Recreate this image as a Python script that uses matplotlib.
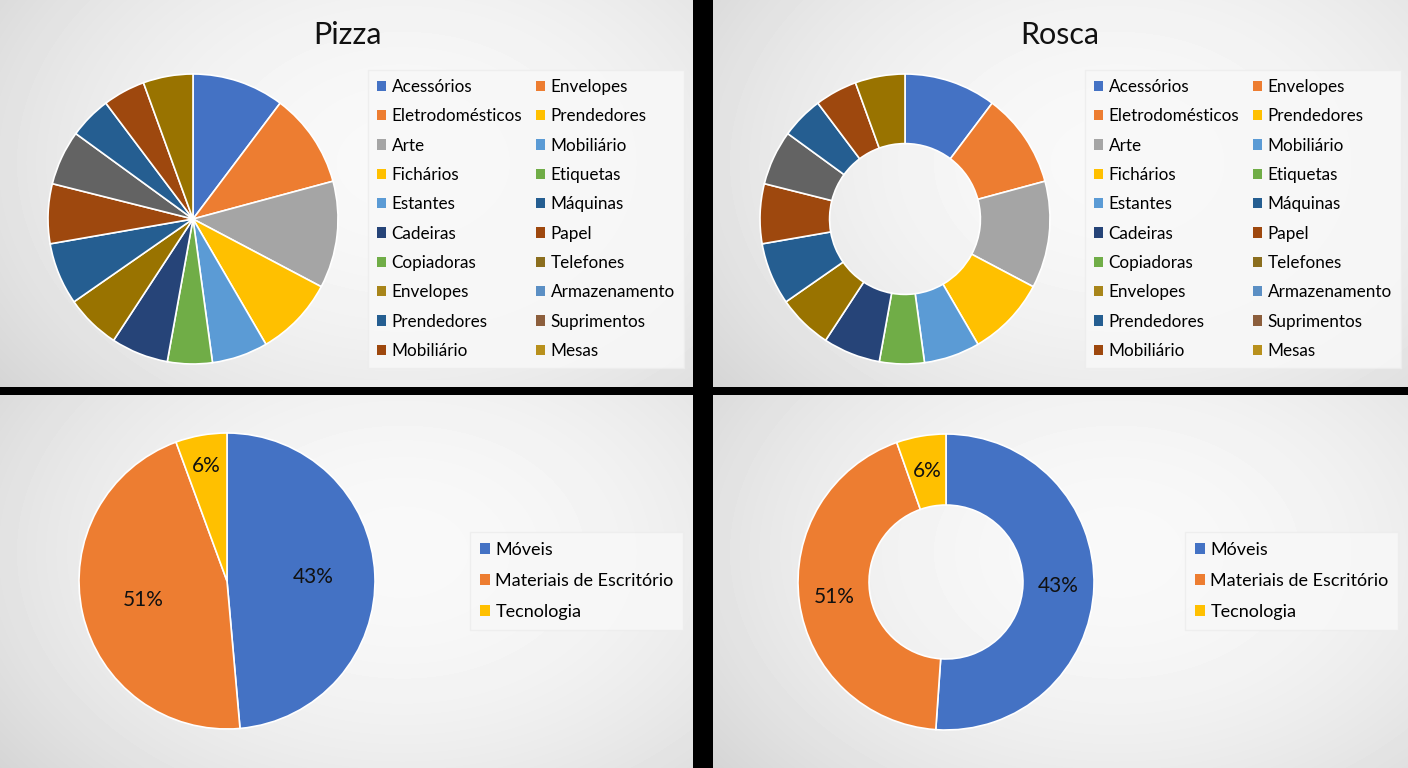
import matplotlib.pyplot as plt
from matplotlib.patches import Patch
import numpy as np

plt.rcParams['font.family'] = ['Lato', 'DejaVu Sans']

# dados - grafico de categorias (14 fatias visiveis)
fatias = [37, 38, 43, 32, 22.5, 18, 23, 22, 25, 24, 22, 17, 17, 20]
cores_fatias = ['#4472C4', '#ED7D31', '#A5A5A5', '#FFC000', '#5B9BD5', '#70AD47',
                '#264478', '#997300', '#255E91', '#9E480E', '#636363', '#255E91',
                '#9E480E', '#997300']

# legenda (ordem de leitura, linha a linha)
legenda = ['Acessórios', 'Envelopes', 'Eletrodomésticos', 'Prendedores', 'Arte', 'Mobiliário',
           'Fichários', 'Etiquetas', 'Estantes', 'Máquinas', 'Cadeiras', 'Papel',
           'Copiadoras', 'Telefones', 'Envelopes', 'Armazenamento', 'Prendedores',
           'Suprimentos', 'Mobiliário', 'Mesas']
cores_legenda = ['#4472C4', '#ED7D31', '#ED7D31', '#FFC000', '#A5A5A5', '#5B9BD5',
                 '#FFC000', '#70AD47', '#5B9BD5', '#255E91', '#264478', '#9E480E',
                 '#70AD47', '#8B6E1E', '#A8851A', '#5B8FC4', '#255E91', '#8C5E3C',
                 '#9E480E', '#B8901C']

# dados - grafico por segmento
segmentos = ['Móveis', 'Materiais de Escritório', 'Tecnologia']
rotulos_pct = ['43%', '51%', '6%']
fatias_pizza = [48.6, 45.8, 5.6]
fatias_rosca = [51.1, 43.5, 5.4]
cores_seg = ['#4472C4', '#ED7D31', '#FFC000']

W, H = 1408, 768
fig = plt.figure(figsize=(W / 100, H / 100), dpi=100, facecolor='black')


def px_axes(x0, y0, x1, y1):
    return fig.add_axes([x0 / W, 1 - y1 / H, (x1 - x0) / W, (y1 - y0) / H])


def fundo(x0, y0, x1, y1):
    ax = px_axes(x0, y0, x1, y1)
    h, w = int(y1 - y0), int(x1 - x0)
    yy, xx = np.mgrid[0:h, 0:w]
    d = np.sqrt(((xx - 0.58 * w) / (0.62 * w)) ** 2 + ((yy - 0.42 * h) / (0.8 * h)) ** 2)
    img = np.clip(0.975 - 0.1 * d ** 2, 0.82, 1)
    ax.imshow(img, cmap='gray', vmin=0, vmax=1, aspect='auto', interpolation='bilinear')
    ax.axis('off')


def eixo_pizza(cx, cy, r):
    ax = px_axes(cx - r, cy - r, cx + r, cy + r)
    ax.axis('off')
    return ax


def fixa(ax):
    ax.set_xlim(-1, 1)
    ax.set_ylim(-1, 1)
    ax.set_aspect('equal')


def legenda_box(x, y, labels, colors, ncol, spacing, size):
    hs = [Patch(facecolor=c, edgecolor='none') for c in colors]
    if ncol == 2:
        hs = hs[0::2] + hs[1::2]
        labels = labels[0::2] + labels[1::2]
    leg = fig.legend(hs, labels, ncol=ncol, loc='upper left',
                     bbox_to_anchor=(x / W, 1 - y / H), bbox_transform=fig.transFigure,
                     prop=dict(family=['Lato', 'DejaVu Sans'], size=size),
                     handlelength=0.55, handleheight=0.55, handletextpad=0.3,
                     columnspacing=0.82, labelspacing=spacing, borderpad=0.55,
                     frameon=True, fancybox=False)
    fr = leg.get_frame()
    fr.set_facecolor('#F8F8F8')
    fr.set_edgecolor('#EDEDED')
    fr.set_alpha(0.85)
    return leg


# paineis
fundo(0, 0, 693, 387)
fundo(713, 0, 1408, 387)
fundo(0, 395, 693, 768)
fundo(713, 395, 1408, 768)

borda = dict(edgecolor='white', linewidth=1.2)

# Pizza
ax1 = eixo_pizza(193, 219, 145)
ax1.pie(fatias, colors=cores_fatias, startangle=90, counterclock=False, wedgeprops=borda)
fixa(ax1)
fig.text(347 / W, 1 - 35 / H, 'Pizza', ha='center', va='center', fontsize=22, color='#111111')
legenda_box(359, 61, legenda, cores_legenda, 2, 0.78, 12.3)

# Rosca
ax2 = eixo_pizza(905, 219, 145)
ax2.pie(fatias, colors=cores_fatias, startangle=90, counterclock=False,
        wedgeprops=dict(width=0.48, **borda))
fixa(ax2)
fig.text(1060 / W, 1 - 35 / H, 'Rosca', ha='center', va='center', fontsize=22, color='#111111')
legenda_box(1076, 61, legenda, cores_legenda, 2, 0.78, 12.3)

# pizza por segmento
ax3 = eixo_pizza(227, 581, 148)
w3, _ = ax3.pie(fatias_pizza, colors=cores_seg, startangle=90, counterclock=False,
                wedgeprops=borda)
fixa(ax3)
for w, txt, dist in zip(w3, rotulos_pct, [0.58, 0.58, 0.79]):
    t = np.deg2rad((w.theta1 + w.theta2) / 2)
    ax3.text(dist * np.cos(t), dist * np.sin(t), txt, ha='center', va='center',
             fontsize=15, color='#111111')
legenda_box(461, 523, segmentos, cores_seg, 1, 0.83, 13)

# rosca por segmento
ax4 = eixo_pizza(946, 582, 148)
w4, _ = ax4.pie(fatias_rosca, colors=cores_seg, startangle=90, counterclock=False,
                wedgeprops=dict(width=0.48, **borda))
fixa(ax4)
for w, txt in zip(w4, rotulos_pct):
    t = np.deg2rad((w.theta1 + w.theta2) / 2)
    ax4.text(0.76 * np.cos(t), 0.76 * np.sin(t), txt, ha='center', va='center',
             fontsize=15, color='#111111')
legenda_box(1176, 523, segmentos, cores_seg, 1, 0.83, 13)

fig.savefig('out.png', dpi=100, facecolor='black')
